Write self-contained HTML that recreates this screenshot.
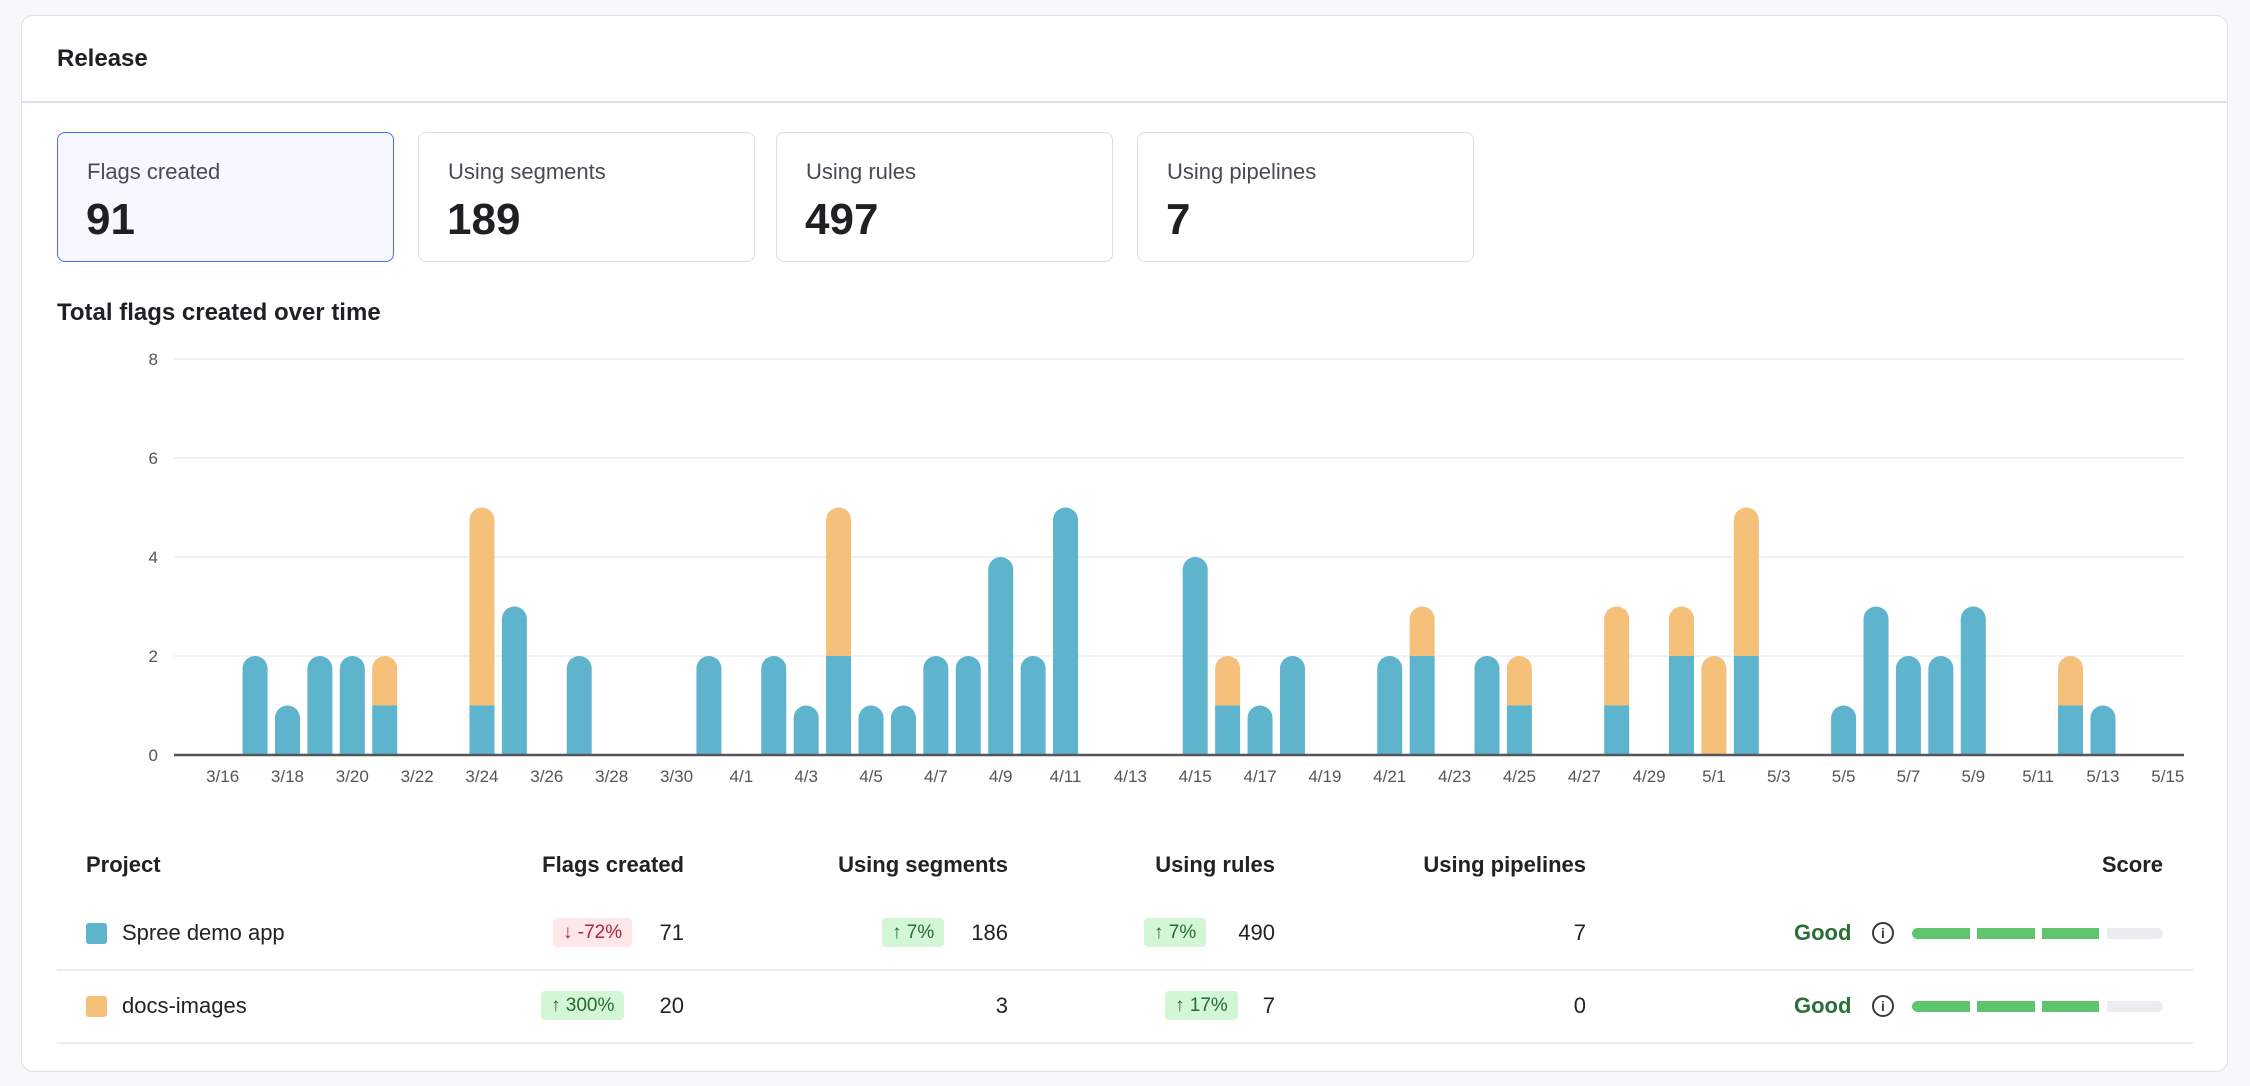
<!DOCTYPE html>
<html><head><meta charset="utf-8"><style>
*{margin:0;padding:0;box-sizing:border-box}
body{width:2250px;height:1086px;background:#f7f8fa;font-family:"Liberation Sans",sans-serif;color:#1f2023;position:relative;overflow:hidden}
.card{position:absolute;left:21px;top:15px;width:2207px;height:1057px;background:#fff;border:1.5px solid #dfe0e5;border-radius:12px}
.abs{position:absolute;white-space:nowrap}
.stat{position:absolute;top:132px;width:337px;height:130px;border:1.5px solid #dcdde2;border-radius:8px;background:#fff}
.stat.sel{background:#f6f7ff;border-color:#4a6cf7}
.stat .l{position:absolute;left:29px;top:26px;font-size:22px;color:#4a4b52}
.stat .n{position:absolute;left:28px;top:62px;font-size:44px;font-weight:bold;color:#1f2023}
.th{position:absolute;top:852px;font-size:22px;font-weight:bold;color:#222}
.td{position:absolute;font-size:22px;color:#222;line-height:30px}
.badge{position:absolute;height:29px;line-height:29px;font-size:19px;padding:0 10px;border-radius:4px}
.bg{background:#d3f7d6;color:#256b32}.br{background:#fde7ea;color:#b3213a}
.hr{position:absolute;left:57px;width:2136px;height:1.5px;background:#ececef}
.good{position:absolute;font-size:22px;font-weight:bold;color:#2a6f36;line-height:30px}
.info{position:absolute;width:22px;height:22px;border:2px solid #3a3b40;border-radius:50%;font-size:14px;font-weight:bold;text-align:center;line-height:18px;color:#3a3b40}
.seg{position:absolute;height:11px;background:#5ec46e}
</style></head><body>
<div class="card"></div>
<div class="abs" style="left:57px;top:45px;font-size:24px;font-weight:bold">Release</div>
<div class="abs" style="left:22px;top:101px;width:2205px;height:1.5px;background:#dfe0e5"></div>
<div class="stat sel" style="left:57px"><div class="l">Flags created</div><div class="n">91</div></div>
<div class="stat" style="left:418px"><div class="l">Using segments</div><div class="n">189</div></div>
<div class="stat" style="left:776px"><div class="l">Using rules</div><div class="n">497</div></div>
<div class="stat" style="left:1137px"><div class="l">Using pipelines</div><div class="n">7</div></div>
<div class="abs" style="left:57px;top:299px;font-size:24px;font-weight:bold">Total flags created over time</div>
<svg id="ch" class="abs" style="left:0;top:0" width="2250" height="820"></svg>

<div class="th" style="left:86px">Project</div>
<div class="th" style="right:1566px">Flags created</div>
<div class="th" style="right:1242px">Using segments</div>
<div class="th" style="right:975px">Using rules</div>
<div class="th" style="right:664px">Using pipelines</div>
<div class="th" style="right:87px">Score</div>

<div class="abs" style="left:86px;top:923px;width:21px;height:21px;background:#5db4cc;border-radius:3px"></div>
<div class="td" style="left:122px;top:918px">Spree demo app</div>
<div class="badge br" style="left:553px;top:918px">↓ -72%</div>
<div class="td" style="right:1566px;top:918px">71</div>
<div class="badge bg" style="left:882px;top:918px">↑ 7%</div>
<div class="td" style="right:1242px;top:918px">186</div>
<div class="badge bg" style="left:1144px;top:918px">↑ 7%</div>
<div class="td" style="right:975px;top:918px">490</div>
<div class="td" style="right:664px;top:918px">7</div>
<div class="good" style="left:1794px;top:918px">Good</div>
<div class="info" style="left:1872px;top:922px">i</div>
<div class="seg" style="left:1912px;top:928px;width:58px;border-radius:6px 0 0 6px"></div>
<div class="seg" style="left:1977px;top:928px;width:58px"></div>
<div class="seg" style="left:2042px;top:928px;width:57px"></div>
<div class="seg" style="left:2107px;top:928px;width:56px;background:#ebecf0;border-radius:0 6px 6px 0"></div>
<div class="hr" style="top:969px"></div>

<div class="abs" style="left:86px;top:996px;width:21px;height:21px;background:#f5c07a;border-radius:3px"></div>
<div class="td" style="left:122px;top:991px">docs-images</div>
<div class="badge bg" style="left:541px;top:991px">↑ 300%</div>
<div class="td" style="right:1566px;top:991px">20</div>
<div class="td" style="right:1242px;top:991px">3</div>
<div class="badge bg" style="left:1165px;top:991px">↑ 17%</div>
<div class="td" style="right:975px;top:991px">7</div>
<div class="td" style="right:664px;top:991px">0</div>
<div class="good" style="left:1794px;top:991px">Good</div>
<div class="info" style="left:1872px;top:995px">i</div>
<div class="seg" style="left:1912px;top:1001px;width:58px;border-radius:6px 0 0 6px"></div>
<div class="seg" style="left:1977px;top:1001px;width:58px"></div>
<div class="seg" style="left:2042px;top:1001px;width:57px"></div>
<div class="seg" style="left:2107px;top:1001px;width:56px;background:#ebecf0;border-radius:0 6px 6px 0"></div>
<div class="hr" style="top:1042px"></div>

<script>
var s='',L=174,R=2184,Y0=755,U=49.5,B=(R-L)/62,W=25,r=12.5;
for(var v=0;v<=8;v+=2){var y=Y0-v*U;
 if(v>0)s+='<line x1="'+L+'" x2="'+R+'" y1="'+y+'" y2="'+y+'" stroke="#ededf0" stroke-width="1.5"/>';
 s+='<text x="158" y="'+(y+6)+'" font-size="17" fill="#555" text-anchor="end" font-family="Liberation Sans">'+v+'</text>';}
function idx(m,d){return m==3?d-15:m==4?16+d:46+d;}
var data=[[3,17,2,0],[3,18,1,0],[3,19,2,0],[3,20,2,0],[3,21,1,1],[3,24,1,4],[3,25,3,0],[3,27,2,0],[3,31,2,0],[4,2,2,0],[4,3,1,0],[4,4,2,3],[4,5,1,0],[4,6,1,0],[4,7,2,0],[4,8,2,0],[4,9,4,0],[4,10,2,0],[4,11,5,0],[4,15,4,0],[4,16,1,1],[4,17,1,0],[4,18,2,0],[4,21,2,0],[4,22,2,1],[4,24,2,0],[4,25,1,1],[4,28,1,2],[4,30,2,1],[5,1,0,2],[5,2,2,3],[5,5,1,0],[5,6,3,0],[5,7,2,0],[5,8,2,0],[5,9,3,0],[5,12,1,1],[5,13,1,0]];
function seg(x,yb,yt,top,c){
 if(!top)return '<rect x="'+x+'" y="'+yt+'" width="'+W+'" height="'+(yb-yt)+'" fill="'+c+'"/>';
 return '<path d="M'+x+' '+yb+'V'+(yt+r)+'A'+r+' '+r+' 0 0 1 '+(x+W)+' '+(yt+r)+'V'+yb+'Z" fill="'+c+'"/>';}
data.forEach(function(d){var i=idx(d[0],d[1]),cx=L+(i+0.5)*B,x=cx-W/2;
 var yb=Y0-d[2]*U,yt=Y0-(d[2]+d[3])*U;
 if(d[2]>0)s+=seg(x,Y0,yb,d[3]==0,'#5db4cc');
 if(d[3]>0)s+=seg(x,yb,yt,true,'#f5c07a');});
s+='<line x1="'+L+'" x2="'+R+'" y1="'+Y0+'" y2="'+Y0+'" stroke="#55565c" stroke-width="2.5"/>';
for(var i=1;i<62;i+=2){var m,d;if(i<=16){m=3;d=i+15}else if(i<=46){m=4;d=i-16}else{m=5;d=i-46}
 s+='<text x="'+(L+(i+0.5)*B)+'" y="782" font-size="17" fill="#555" text-anchor="middle" font-family="Liberation Sans">'+m+'/'+d+'</text>';}
document.getElementById('ch').innerHTML=s;
</script>
</body></html>
